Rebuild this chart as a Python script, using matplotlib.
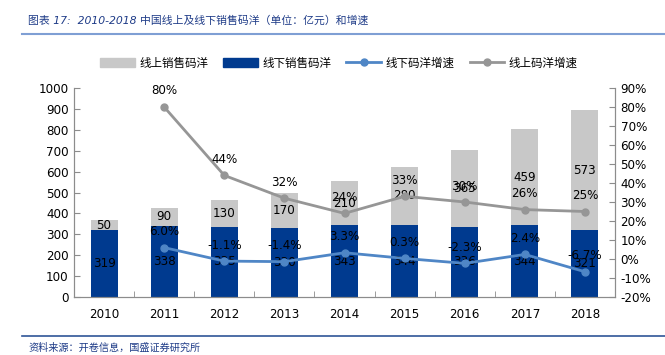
import matplotlib
matplotlib.use("Agg")
import matplotlib.pyplot as plt
from matplotlib.lines import Line2D
from matplotlib.patches import Patch
import numpy as np

plt.rcParams['font.family'] = ['DejaVu Sans', 'Noto Sans CJK SC']

years = ['2010', '2011', '2012', '2013', '2014', '2015', '2016', '2017', '2018']
offline = [319, 338, 335, 330, 343, 344, 336, 344, 321]
online = [50, 90, 130, 170, 210, 280, 365, 459, 573]
offline_growth = [None, 6.0, -1.1, -1.4, 3.3, 0.3, -2.3, 2.4, -6.7]
online_growth = [None, 80, 44, 32, 24, 33, 30, 26, 25]

W, H = 665, 355
fig = plt.figure(figsize=(W / 100, H / 100), dpi=100)
ax = fig.add_axes([74 / W, 1 - 297 / H, (615 - 74) / W, (297 - 88) / H])
ax2 = ax.twinx()

c_off = '#003a8f'
c_on = '#c8c8c8'
c_offg = '#4f86c6'
c_ong = '#969696'
axis_c = '#8c8c8c'
fs = 8.6

x = np.arange(len(years))
bw = 0.45
ax.bar(x, offline, bw, color=c_off, zorder=2)
ax.bar(x, online, bw, bottom=offline, color=c_on, zorder=2)

for i in range(len(years)):
    ax.text(x[i], offline[i] / 2, str(offline[i]), ha='center', va='center', fontsize=fs, color='black', zorder=5)
    ax.text(x[i], offline[i] + online[i] / 2, str(online[i]), ha='center', va='center', fontsize=fs, color='black', zorder=5)

gx = [x[i] for i in range(len(years)) if offline_growth[i] is not None]
og = [v / 100 for v in offline_growth if v is not None]
ng = [v / 100 for v in online_growth if v is not None]
ax2.plot(gx, og, color=c_offg, lw=2, marker='o', ms=5, zorder=3)
ax2.plot(gx, ng, color=c_ong, lw=2, marker='o', ms=5, zorder=3)
for xi, v in zip(gx, og):
    ax2.annotate(f'{v*100:.1f}%', (xi, v), xytext=(0, 16), textcoords='offset pixels',
                 ha='center', va='center', fontsize=fs, zorder=6)
for xi, v in zip(gx, ng):
    ax2.annotate(f'{v*100:.0f}%', (xi, v), xytext=(0, 16), textcoords='offset pixels',
                 ha='center', va='center', fontsize=fs, zorder=6)

ax.set_xlim(-0.5, len(years) - 0.5)
ax.set_ylim(0, 1000)
ax.set_yticks(np.arange(0, 1001, 100))
ax2.set_ylim(-0.2, 0.9)
ax2.set_yticks(np.arange(-0.2, 0.91, 0.1))
ax2.set_yticklabels([f'{int(round(v*100))}%' for v in np.arange(-0.2, 0.91, 0.1)])

ax.set_xticks(x)
ax.set_xticklabels(years)
ax.set_xticks(np.arange(-0.5, len(years), 1), minor=True)
ax.tick_params(axis='x', which='major', length=0, pad=8, labelsize=fs)
ax.tick_params(axis='x', which='minor', length=4, direction='in', color=axis_c)
ax.tick_params(axis='y', direction='in', length=4, color=axis_c, labelsize=fs, pad=4)
ax2.tick_params(axis='y', direction='in', length=4, color=axis_c, labelsize=fs, pad=4)

for a in (ax, ax2):
    a.spines['top'].set_visible(False)
    for s in ('left', 'right', 'bottom'):
        a.spines[s].set_color(axis_c)

handles = [Patch(color=c_on), Patch(color=c_off),
           Line2D([0], [0], color=c_offg, lw=2, marker='o', ms=5),
           Line2D([0], [0], color=c_ong, lw=2, marker='o', ms=5)]
labels = ['线上销售码洋', '线下销售码洋', '线下码洋增速', '线上码洋增速']
fig.legend(handles, labels, loc='center', bbox_to_anchor=(339 / W, 1 - 63 / H), ncol=4,
           frameon=False, fontsize=8.3, handlelength=3.0, columnspacing=1.3, handletextpad=0.4)

title_c = '#1f3c88'
fig.text(28 / W, 1 - 21 / H, '图表 17:  2010-2018 中国线上及线下销售码洋（单位：亿元）和增速',
         fontsize=7.8, color=title_c, style='italic', ha='left', va='center')
fig.add_artist(Line2D([22 / W, 1], [1 - 34 / H, 1 - 34 / H], color='#7f9fd4', lw=1.5))
fig.add_artist(Line2D([22 / W, 1], [1 - 336 / H, 1 - 336 / H], color='#2f5597', lw=1.2))
fig.text(28 / W, 1 - 348 / H, '资料来源：开卷信息，国盛证券研究所',
         fontsize=7.3, color=title_c, style='italic', ha='left', va='center')

fig.savefig('out.png', dpi=100)
